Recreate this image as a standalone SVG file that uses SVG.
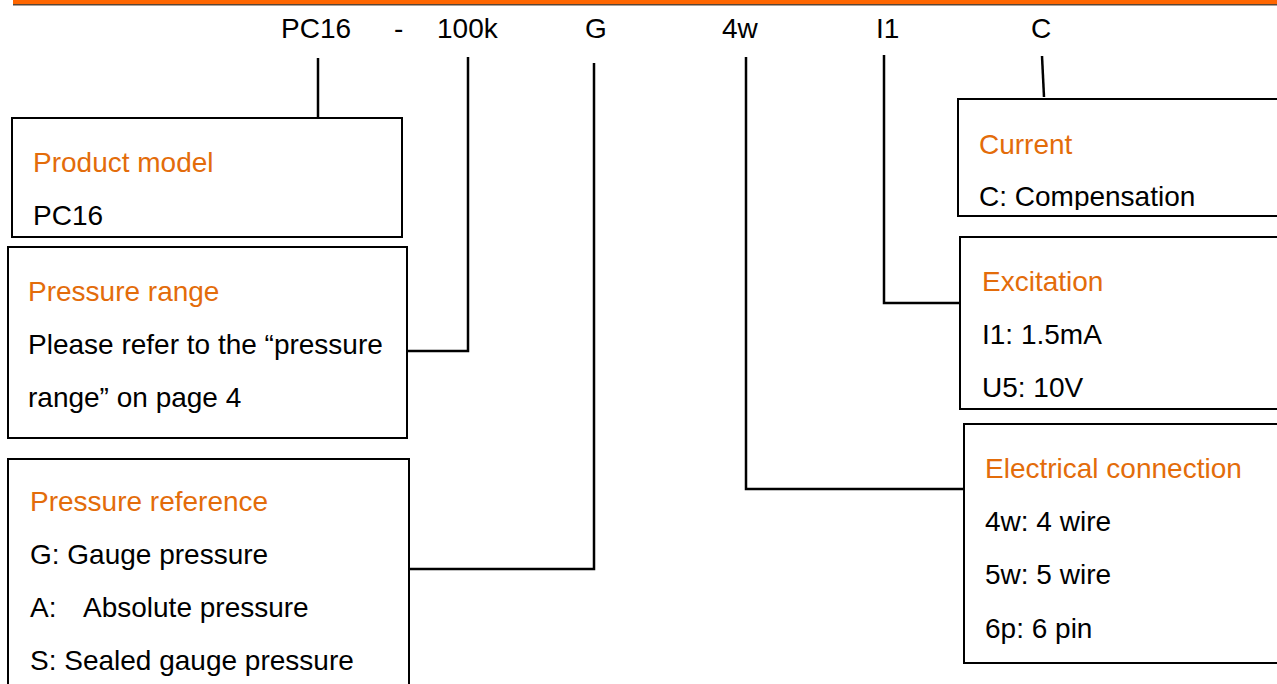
<svg xmlns="http://www.w3.org/2000/svg" width="1277" height="684" viewBox="0 0 1277 684">
<style>
text{font-family:"Liberation Sans",Arial,sans-serif;font-size:28px;fill:#000}
.h{fill:#e36c0a}
.code{font-size:28px}
.box{fill:#fff;stroke:#000;stroke-width:2}
.con{fill:none;stroke:#000;stroke-width:2.5}
</style>
<defs>
<clipPath id="clipCur"><rect x="958" y="99" width="320" height="111"/></clipPath>
<clipPath id="clipRef"><rect x="0" y="459" width="420" height="217"/></clipPath>
</defs>
<rect x="13" y="0" width="1264" height="4" fill="#ff6600"/>
<rect x="13" y="4" width="1264" height="1.5" fill="#5a4636"/>
<g id="codes">
<text class="code" x="281" y="38">PC16</text>
<text class="code" x="394" y="38">-</text>
<text class="code" x="437" y="38">100k</text>
<text class="code" x="585" y="38">G</text>
<text class="code" x="722" y="38">4w</text>
<text class="code" x="876" y="38">I1</text>
<text class="code" x="1031" y="38">C</text>
</g>
<g id="connectors">
<line class="con" x1="318" y1="58" x2="318" y2="118"/>
<polyline class="con" points="468,57 468,351 407,351"/>
<polyline class="con" points="594,63 594,569 409,569"/>
<polyline class="con" points="746,57 746,489 964,489"/>
<polyline class="con" points="884,55 884,303 960,303"/>
<line class="con" x1="1042" y1="56" x2="1044" y2="97"/>
</g>
<g id="product-model">
<rect class="box" x="12" y="118" width="390" height="119"/>
<text class="h" x="33" y="172">Product model</text>
<text x="33" y="225">PC16</text>
</g>
<g id="pressure-range">
<rect class="box" x="8" y="247" width="399" height="191"/>
<text class="h" x="28" y="301">Pressure range</text>
<text x="28" y="354">Please refer to the “pressure</text>
<text x="28" y="407">range” on page 4</text>
</g>
<g id="pressure-reference">
<rect class="box" x="8" y="459" width="401" height="240"/>
<g clip-path="url(#clipRef)">
<text class="h" x="30" y="511">Pressure reference</text>
<text x="30" y="564">G: Gauge pressure</text>
<text x="30" y="617">A:<tspan x="83">Absolute pressure</tspan></text>
<text x="30" y="670">S: Sealed gauge pressure</text>
</g>
</g>
<g id="current">
<rect class="box" x="958" y="99" width="330" height="117"/>
<g clip-path="url(#clipCur)">
<text class="h" x="979" y="154">Current</text>
<text x="979" y="206">C: Compensation</text>
</g>
</g>
<g id="excitation">
<rect class="box" x="960" y="237" width="330" height="172"/>
<text class="h" x="982" y="291">Excitation</text>
<text x="982" y="344">I1: 1.5mA</text>
<text x="982" y="397">U5: 10V</text>
</g>
<g id="electrical-connection">
<rect class="box" x="964" y="424" width="330" height="239"/>
<text class="h" x="985" y="478">Electrical connection</text>
<text x="985" y="531">4w: 4 wire</text>
<text x="985" y="584">5w: 5 wire</text>
<text x="985" y="638">6p: 6 pin</text>
</g>
</svg>
